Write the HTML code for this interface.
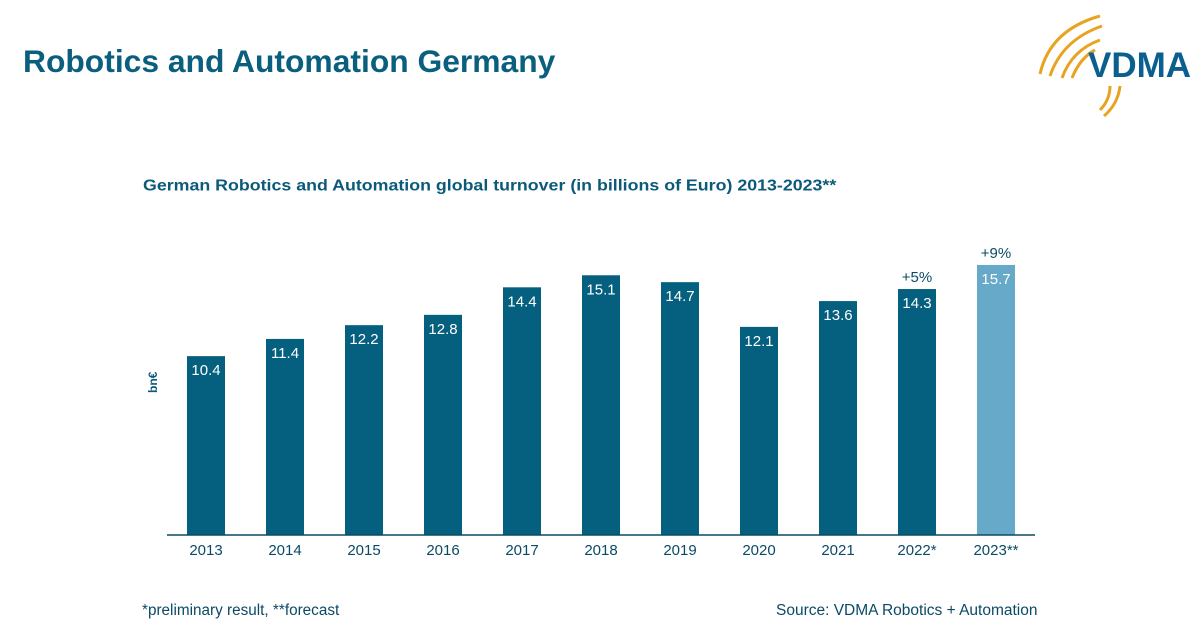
<!DOCTYPE html>
<html><head><meta charset="utf-8"><style>
body{margin:0;width:1202px;height:630px;background:#fff;font-family:"Liberation Sans",sans-serif;position:relative;overflow:hidden}
.t{position:absolute;white-space:nowrap}
</style></head><body>
<div class="t" style="left:23px;top:43px;font-size:31.8px;font-weight:bold;color:#0b5f7e">Robotics and Automation Germany</div>
<svg style="position:absolute;left:1030px;top:10px" width="172" height="110" viewBox="1030 10 172 110">
<g fill="none" stroke="#e8a321" stroke-width="3">
<path d="M1040 74 Q1050 30 1100 16"/><path d="M1050 76 Q1062 40 1102 26"/><path d="M1062 78 Q1072 50 1100 40"/><path d="M1072 78 Q1080 58 1095 50"/>
<path d="M1110 86 Q1110 100 1100 110"/><path d="M1120 86 Q1118 104 1104 116"/>
</g>
<text x="1088" y="77" font-family="Liberation Sans" font-weight="bold" font-size="35" fill="#0b5f8e">VDMA</text>
</svg>
<div class="t" style="left:143px;top:177px;font-size:17.6px;font-weight:bold;color:#0b5a7a;font-size:15px;transform:scale(1.186,1.05);transform-origin:0 0">German Robotics and Automation global turnover (in billions of Euro) 2013-2023**</div>
<div class="t" style="left:146px;font-size:12px;font-weight:bold;color:#0b5a7a;transform:rotate(-90deg);transform-origin:0 0;top:393px">bn€</div>
<svg id="chart" style="position:absolute;left:0;top:0" width="1202" height="630"></svg>
<div class="t" style="left:142px;top:602px;font-size:15.3px;color:#0b4a66">*preliminary result, **forecast</div>
<div class="t" style="left:776px;top:602px;font-size:15.5px;color:#0b4a66">Source: VDMA Robotics + Automation</div>
<script>
const categories=["2013","2014","2015","2016","2017","2018","2019","2020","2021","2022*","2023**"];
const values=[10.4,11.4,12.2,12.8,14.4,15.1,14.7,12.1,13.6,14.3,15.7];
const growthLabels=["","","","","","","","","","+5%","+9%"];
const svg=document.getElementById('chart');const NS="http://www.w3.org/2000/svg";
const base=535,scale=17.2,x0=206,step=79,bw=38;
const y=v=>base-v*scale, xc=i=>x0+i*step;
function mk(tag,a){const e=document.createElementNS(NS,tag);for(const k in a)e.setAttribute(k,a[k]);svg.appendChild(e);return e;}
categories.forEach((c,i)=>{
 const r=mk('rect',{x:xc(i)-bw/2,y:y(values[i]),width:bw,height:values[i]*scale,fill:i==10?'#66a9c9':'#05607f'});
 
 
 const v=mk('text',{x:xc(i),y:y(values[i])+19,'text-anchor':'middle','font-size':'15','font-family':'Liberation Sans',fill:'#fff'});
 v.textContent=values[i].toFixed(1);
 
 
 const l=mk('text',{x:xc(i),y:555,'text-anchor':'middle','font-size':'15','font-family':'Liberation Sans',fill:'#0b4a66'});
 l.textContent=c;
 
 
 if(growthLabels[i]){const g=mk('text',{x:xc(i),y:y(values[i])-7,'text-anchor':'middle','font-size':'15','font-family':'Liberation Sans',fill:'#0b4a66'});
 g.textContent=growthLabels[i];
 
 }
});
const ax=mk('line',{x1:167,x2:1035,y1:base,y2:base,stroke:'#0b4a66','stroke-width':1.5});


</script>
</body></html>
